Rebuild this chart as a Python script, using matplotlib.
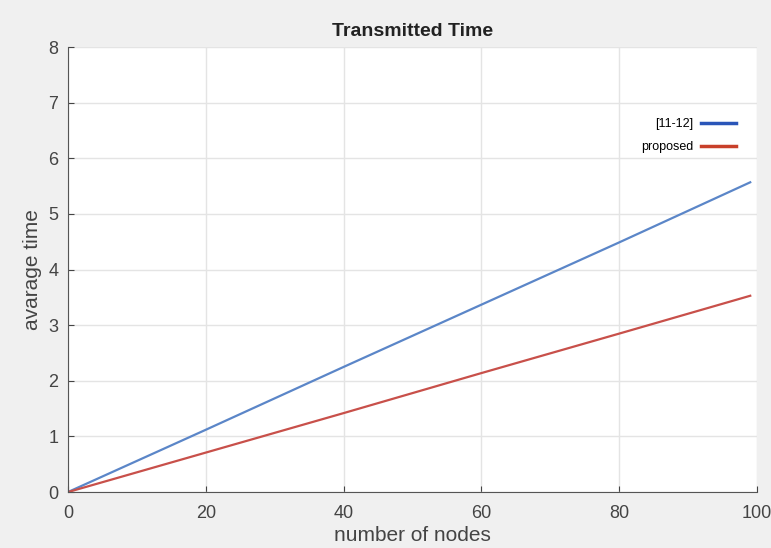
import matplotlib
matplotlib.use("Agg")
import matplotlib.pyplot as plt

plt.rcParams["font.family"] = ["Liberation Sans", "DejaVu Sans"]

nodes = [0, 20, 40, 60, 80, 99]
ref_time = [0, 1.12, 2.25, 3.37, 4.49, 5.57]
proposed_time = [0, 0.71, 1.42, 2.14, 2.85, 3.53]
x_ticks = [0, 20, 40, 60, 80, 100]
y_ticks = [0, 1, 2, 3, 4, 5, 6, 7, 8]

fig = plt.figure(figsize=(7.71, 5.48), dpi=100, facecolor="#f0f0f0")
ax = fig.add_axes([0.088, 0.102, 0.894, 0.812])
ax.set_facecolor("white")

ax.plot(nodes, ref_time, color="#5b86c8", lw=1.6, label="[11-12]")
ax.plot(nodes, proposed_time, color="#c8504a", lw=1.6, label="proposed")

ax.set_xlim(0, 100)
ax.set_ylim(0, 8)
ax.set_xticks(x_ticks)
ax.set_yticks(y_ticks)
ax.grid(True, color="#e4e4e4", lw=1)
ax.set_axisbelow(True)
for s in ["top", "right"]:
    ax.spines[s].set_visible(False)
for s in ["left", "bottom"]:
    ax.spines[s].set_color("#555555")
ax.tick_params(colors="#444444", labelsize=13, length=4, direction="in")
ax.tick_params(axis="x", pad=9)
ax.tick_params(axis="y", pad=7)

ax.set_title("Transmitted Time", fontsize=14, fontweight="bold", color="#222222", pad=8)
ax.set_xlabel("number of nodes", fontsize=15, color="#444444", labelpad=3)
ax.set_ylabel("avarage time", fontsize=15, color="#444444", labelpad=4)

leg = ax.legend(loc="upper right", bbox_to_anchor=(0.985, 0.865), frameon=False,
                markerfirst=False, fontsize=9, handlelength=2.8,
                labelspacing=0.85, handletextpad=0.6)
leg.get_lines()[0].set_color("#2a55b8")
leg.get_lines()[0].set_linewidth(2.5)
leg.get_lines()[1].set_color("#c8402a")
leg.get_lines()[1].set_linewidth(2.5)

fig.savefig("out.png", dpi=100, facecolor=fig.get_facecolor())
